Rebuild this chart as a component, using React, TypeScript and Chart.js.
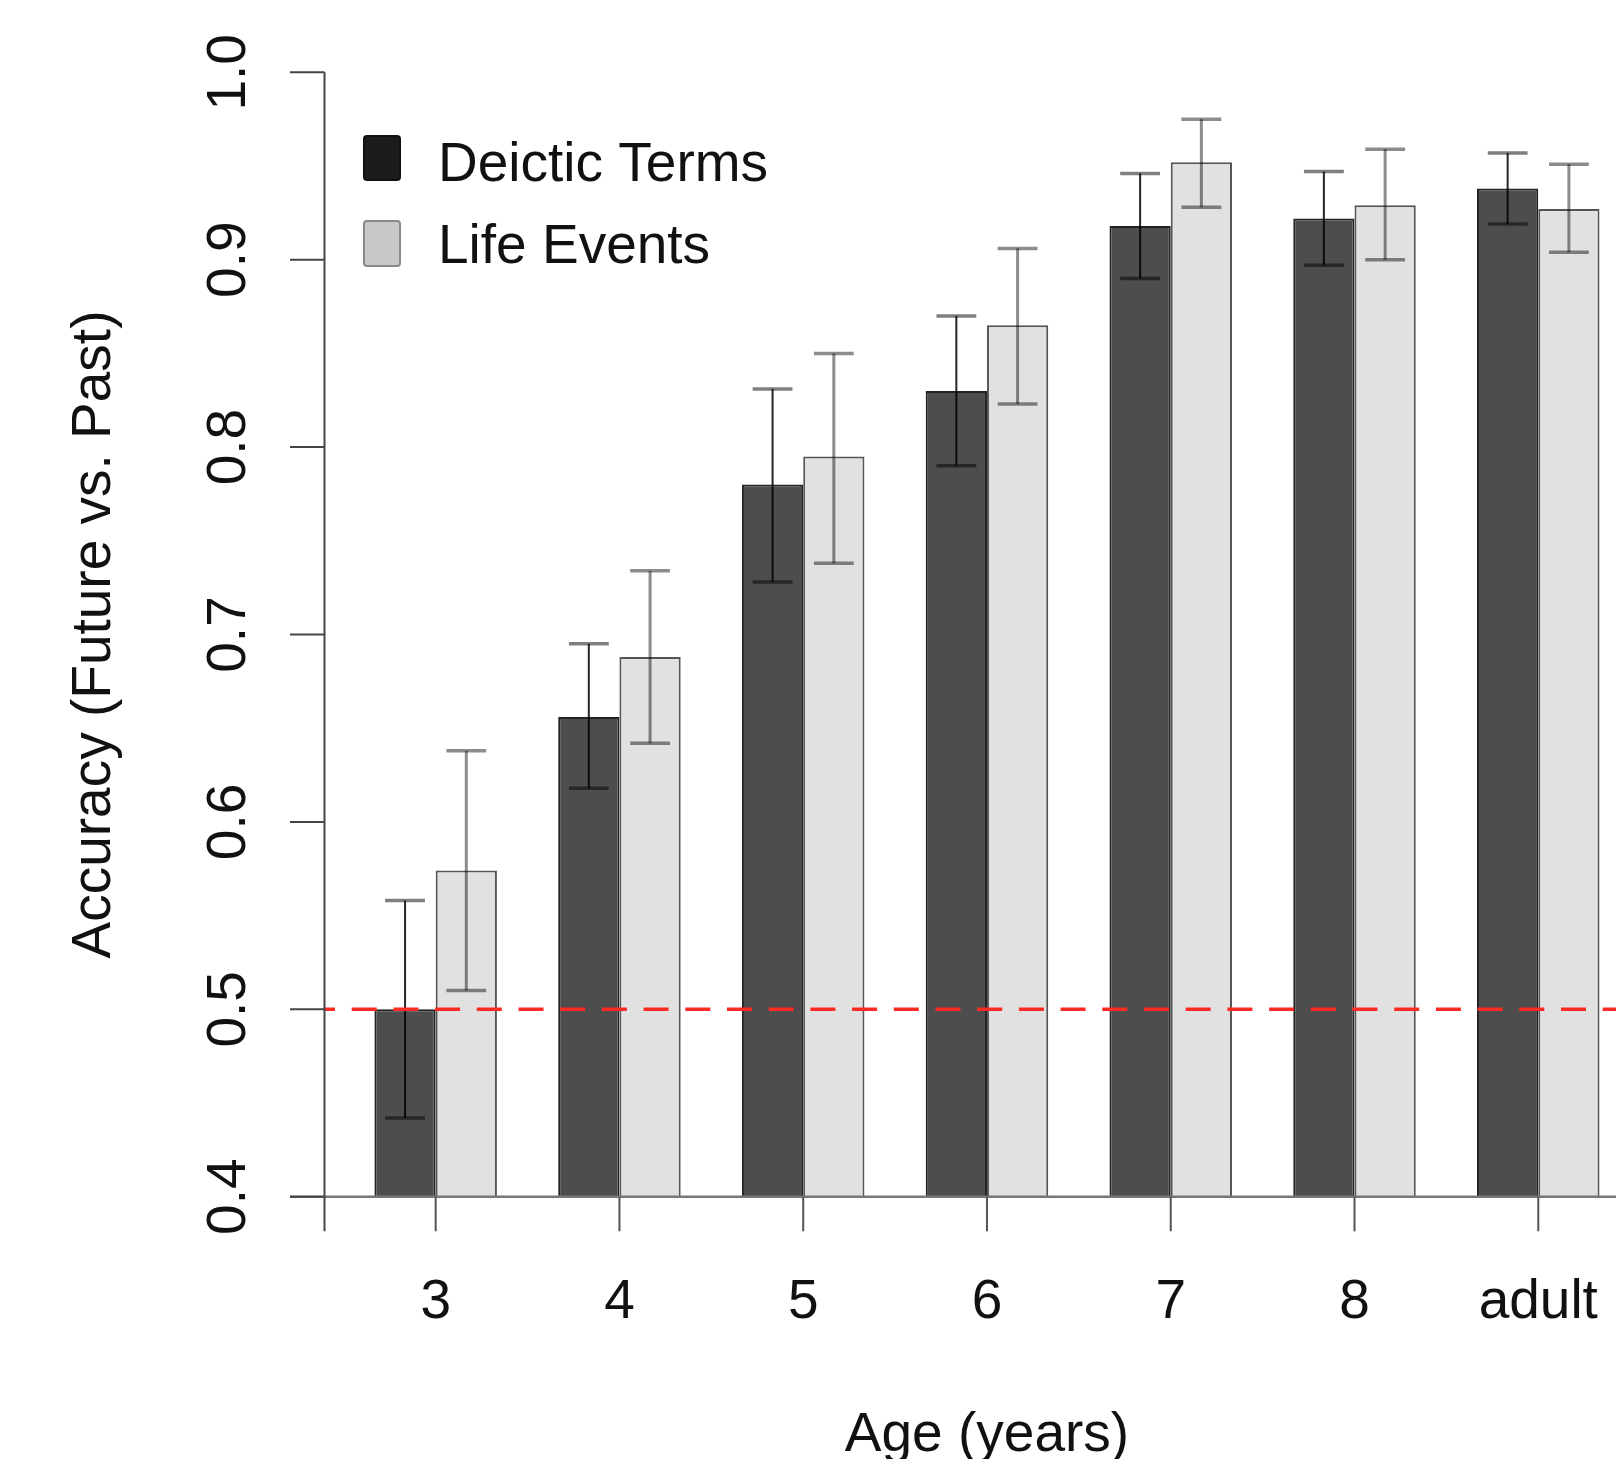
import React, { useEffect, useRef } from "react";
import { Chart, registerables } from "chart.js";

Chart.register(...registerables);

// ---- data ----
const categories = ["3", "4", "5", "6", "7", "8", "adult"];
const deicticMeans = [0.5, 0.656, 0.78, 0.83, 0.918, 0.922, 0.938];
const deicticLow = [0.442, 0.618, 0.728, 0.79, 0.89, 0.897, 0.919];
const deicticHigh = [0.558, 0.695, 0.831, 0.87, 0.946, 0.947, 0.957];
const lifeMeans = [0.574, 0.688, 0.795, 0.865, 0.952, 0.929, 0.927];
const lifeLow = [0.51, 0.642, 0.738, 0.823, 0.928, 0.9, 0.904];
const lifeHigh = [0.638, 0.734, 0.85, 0.906, 0.975, 0.959, 0.951];
const yTicks = [0.4, 0.5, 0.6, 0.7, 0.8, 0.9, 1.0];
const yTickLabels = ["0.4", "0.5", "0.6", "0.7", "0.8", "0.9", "1.0"];
const seriesNames = ["Deictic Terms", "Life Events"];
const chanceLevel = 0.5;
const xTitle = "Age (years)";
const yTitle = "Accuracy (Future vs. Past)";

const FONT = "55px 'Liberation Sans', Arial, Helvetica, sans-serif";

const rStylePlugin = {
  id: "rStyle",
  afterDatasetsDraw(chart: any) {
    const ctx = chart.ctx;
    const ys = chart.scales.y;
    const specs = [
      { ds: 0, low: deicticLow, high: deicticHigh, vColor: "rgba(0,0,0,0.85)", vWidth: 2, cColor: "rgba(0,0,0,0.5)", cWidth: 3.5 },
      { ds: 1, low: lifeLow, high: lifeHigh, vColor: "rgba(0,0,0,0.45)", vWidth: 3, cColor: "rgba(0,0,0,0.45)", cWidth: 3.5 },
    ];
    ctx.save();
    for (const s of specs) {
      const meta = chart.getDatasetMeta(s.ds);
      meta.data.forEach((bar: any, i: number) => {
        const cx = bar.x;
        const half = bar.width * 0.325;
        const yl = ys.getPixelForValue(s.low[i]);
        const yh = ys.getPixelForValue(s.high[i]);
        ctx.strokeStyle = s.vColor;
        ctx.lineWidth = s.vWidth;
        ctx.beginPath();
        ctx.moveTo(cx, yl);
        ctx.lineTo(cx, yh);
        ctx.stroke();
        ctx.strokeStyle = s.cColor;
        ctx.lineWidth = s.cWidth;
        ctx.beginPath();
        ctx.moveTo(cx - half, yl);
        ctx.lineTo(cx + half, yl);
        ctx.moveTo(cx - half, yh);
        ctx.lineTo(cx + half, yh);
        ctx.stroke();
      });
    }
    // chance level dashed red line
    const ca = chart.chartArea;
    const yc = ys.getPixelForValue(chanceLevel);
    ctx.strokeStyle = "#ff2a22";
    ctx.lineWidth = 3.5;
    ctx.setLineDash([25, 16.7]);
    ctx.lineDashOffset = 14.5;
    ctx.beginPath();
    ctx.moveTo(ca.left, yc);
    ctx.lineTo(ca.right, yc);
    ctx.stroke();
    ctx.restore();
  },
  afterDraw(chart: any) {
    const ctx = chart.ctx;
    const ca = chart.chartArea;
    const xs = chart.scales.x;
    const ys = chart.scales.y;
    const tick = 34.5;
    ctx.save();
    ctx.setLineDash([]);

    // x axis line (bar baseline)
    ctx.strokeStyle = "#777";
    ctx.lineWidth = 2.5;
    ctx.beginPath();
    ctx.moveTo(ca.left - tick, ca.bottom);
    ctx.lineTo(ca.right, ca.bottom);
    ctx.stroke();

    // y axis line + ticks
    ctx.strokeStyle = "#444";
    ctx.lineWidth = 2;
    ctx.beginPath();
    ctx.moveTo(ca.left, ys.getPixelForValue(yTicks[yTicks.length - 1]));
    ctx.lineTo(ca.left, ca.bottom + tick);
    yTicks.forEach((v) => {
      const py = ys.getPixelForValue(v);
      ctx.moveTo(ca.left - tick, py);
      ctx.lineTo(ca.left, py);
    });
    ctx.stroke();

    // x ticks
    ctx.strokeStyle = "#555";
    ctx.lineWidth = 2;
    ctx.beginPath();
    categories.forEach((_, i) => {
      const px = xs.getPixelForValue(i);
      ctx.moveTo(px, ca.bottom);
      ctx.lineTo(px, ca.bottom + tick);
    });
    ctx.stroke();

    ctx.fillStyle = "#111";
    ctx.font = FONT;

    // y tick labels (rotated, R style)
    ctx.textAlign = "center";
    ctx.textBaseline = "alphabetic";
    yTicks.forEach((v, i) => {
      const py = ys.getPixelForValue(v);
      ctx.save();
      ctx.translate(ca.left - 79.5, py);
      ctx.rotate(-Math.PI / 2);
      ctx.fillText(yTickLabels[i], 0, 0);
      ctx.restore();
    });

    // x tick labels
    categories.forEach((c, i) => {
      ctx.fillText(c, xs.getPixelForValue(i), ca.bottom + 121.5);
    });

    // x title
    const midX = (xs.getPixelForValue(0) + xs.getPixelForValue(categories.length - 1)) / 2;
    ctx.fillText(xTitle, midX, ca.bottom + 254.5);

    // y title
    ctx.save();
    ctx.translate(ca.left - 214.5, (ca.top + ca.bottom) / 2);
    ctx.rotate(-Math.PI / 2);
    ctx.fillText(yTitle, 0, 0);
    ctx.restore();

    // legend
    const boxes = [
      { fill: "#1c1c1c", stroke: "#111", y: ca.top + 63.7, h: 44, textY: ca.top + 109 },
      { fill: "#c8c8c8", stroke: "#8a8a8a", y: ca.top + 148.7, h: 45, textY: ca.top + 191 },
    ];
    boxes.forEach((b, i) => {
      const bx = ca.left + 39.5;
      ctx.beginPath();
      if ((ctx as any).roundRect) (ctx as any).roundRect(bx, b.y, 36, b.h, 3);
      else ctx.rect(bx, b.y, 36, b.h);
      ctx.fillStyle = b.fill;
      ctx.fill();
      ctx.strokeStyle = b.stroke;
      ctx.lineWidth = 2;
      ctx.stroke();
      ctx.fillStyle = "#111";
      ctx.textAlign = "left";
      ctx.fillText(seriesNames[i], ca.left + 113.5, b.textY);
    });
    ctx.restore();
  },
};

export default function App() {
  const canvasRef = useRef<HTMLCanvasElement | null>(null);

  useEffect(() => {
    if (!canvasRef.current) return;
    const chart = new Chart(canvasRef.current, {
      type: "bar",
      data: {
        datasets: [
          {
            label: seriesNames[0],
            data: deicticMeans.map((v, i) => ({ x: i, y: v })),
            backgroundColor: "#4d4d4d",
            borderColor: "#222",
            borderWidth: 2,
          },
          {
            label: seriesNames[1],
            data: lifeMeans.map((v, i) => ({ x: i, y: v })),
            backgroundColor: "#e1e1e1",
            borderColor: "#555",
            borderWidth: 2,
          },
        ],
      },
      options: {
        responsive: false,
        animation: false,
        devicePixelRatio: 1,
        layout: { padding: { left: 324.5, top: 72.3, right: 0, bottom: 262.3 } },
        datasets: { bar: { categoryPercentage: 2 / 3, barPercentage: 1 } } as any,
        plugins: { legend: { display: false }, tooltip: { enabled: false } },
        scales: {
          x: {
            type: "linear",
            display: false,
            offset: false,
            grid: { offset: false },
            min: -0.605,
            max: 6.423,
            afterBuildTicks: (s: any) => {
              s.ticks = categories.map((_, i) => ({ value: i }));
            },
          },
          y: { type: "linear", display: false, min: 0.4, max: 1.0 },
        },
      } as any,
      plugins: [rStylePlugin],
    });
    return () => chart.destroy();
  }, []);

  return (
    <div style={{ position: "absolute", left: 0, top: 0, width: 1616, height: 1459, background: "#fff" }}>
      <canvas ref={canvasRef} width={1616} height={1459} style={{ display: "block" }} />
    </div>
  );
}
